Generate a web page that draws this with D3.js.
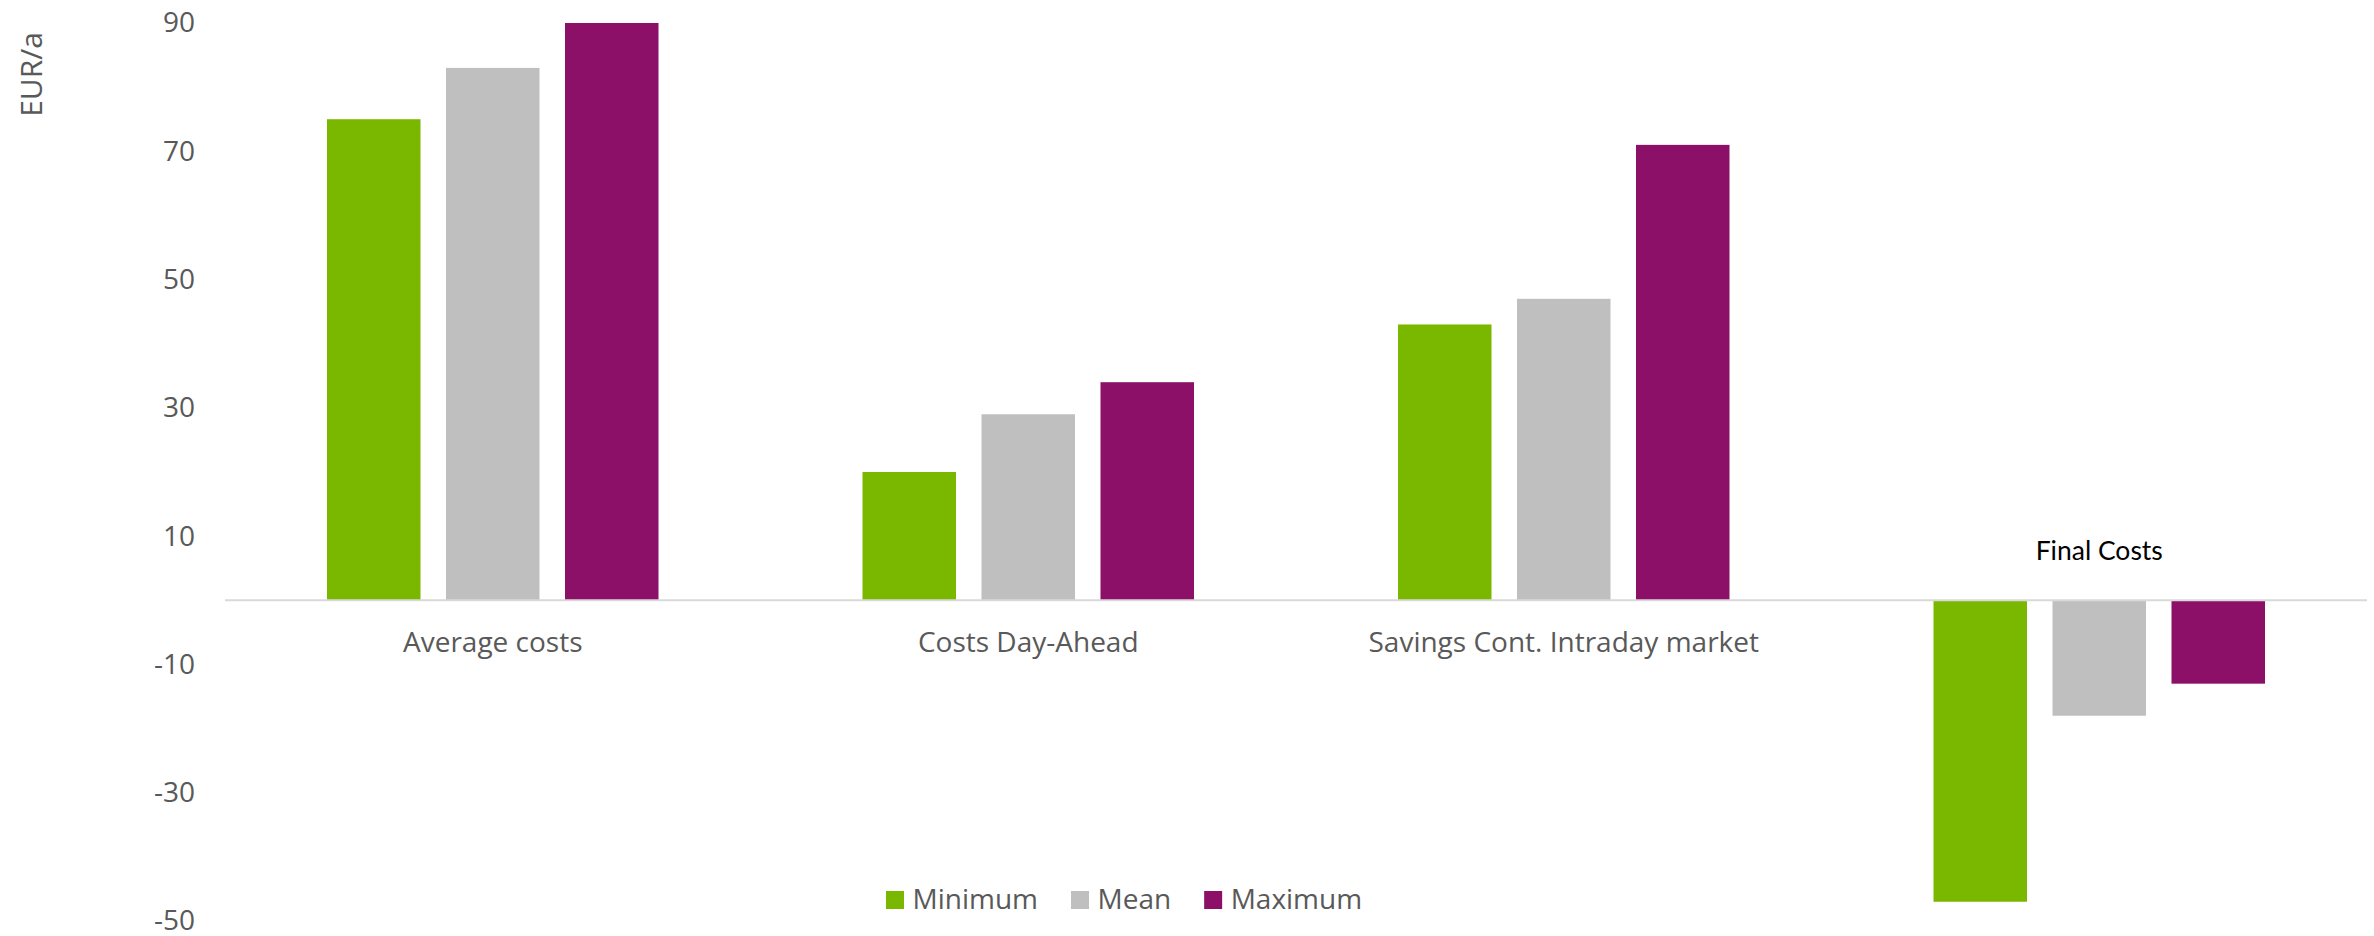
<!DOCTYPE html>
<html>
<head>
<meta charset="utf-8">
<script src="https://cdn.jsdelivr.net/npm/d3@7"></script>
<style>
  html, body { margin: 0; padding: 0; background: #ffffff; }
  svg { display: block; }
</style>
</head>
<body>
<svg id="chart" width="2374" height="936"></svg>
<script>
// Cost components per scenario, EUR per year
const categories = ["Average costs", "Costs Day-Ahead", "Savings Cont. Intraday market", "Final Costs"];
const seriesNames = ["Minimum", "Mean", "Maximum"];
const minimumValues = [75, 20, 43, -47];
const meanValues = [83, 29, 47, -18];
const maximumValues = [90, 34, 71, -13];
const yTicks = [90, 70, 50, 30, 10, -10, -30, -50];
const yAxisTitle = "EUR/a";

const seriesValues = [minimumValues, meanValues, maximumValues];
const colors = ["#7ab800", "#bfbfbf", "#8c0f68"];
const textColor = "#595959";
const font = "'Open Sans', sans-serif";

const svg = d3.select("#chart");

const plotLeft = 225, plotRight = 2367;
const y = d3.scaleLinear().domain([-50, 90]).range([921, 23]);
const x0 = d3.scaleBand().domain(categories).range([plotLeft, plotRight]).paddingInner(0).paddingOuter(0);

const groupWidth = 331.5;
const x1 = d3.scaleBand()
  .domain(seriesNames)
  .range([(x0.bandwidth() - groupWidth) / 2, (x0.bandwidth() + groupWidth) / 2])
  .paddingInner(0.2143)
  .paddingOuter(0);

// Y axis labels (no line, no tick marks); plain hyphen for negatives
const yAxis = d3.axisLeft(y).tickValues(yTicks).tickSize(0).tickPadding(30).tickFormat(d => String(d));
const gy = svg.append("g").attr("transform", `translate(${plotLeft},0)`).call(yAxis);
gy.select(".domain").remove();
gy.selectAll("text")
  .attr("fill", textColor)
  .style("font-family", font)
  .style("font-size", "28px");

// Y axis title
svg.append("text")
  .attr("transform", `translate(42,74.5) rotate(-90)`)
  .attr("text-anchor", "middle")
  .attr("fill", textColor)
  .style("font-family", font)
  .style("font-size", "30px")
  .text(yAxisTitle);

// Bars
const rows = categories.map((c, i) => ({
  category: c,
  values: seriesNames.map((s, k) => ({ series: s, k, value: seriesValues[k][i] }))
}));

const groups = svg.append("g").selectAll("g")
  .data(rows)
  .join("g")
  .attr("transform", d => `translate(${x0(d.category)},0)`);

groups.selectAll("rect")
  .data(d => d.values)
  .join("rect")
  .attr("x", d => x1(d.series))
  .attr("width", x1.bandwidth())
  .attr("y", d => y(Math.max(0, d.value)))
  .attr("height", d => Math.abs(y(d.value) - y(0)))
  .attr("fill", d => colors[d.k]);

// Zero line
svg.append("line")
  .attr("x1", plotLeft).attr("x2", plotRight)
  .attr("y1", y(0)).attr("y2", y(0))
  .attr("stroke", "#d9d9d9")
  .attr("stroke-width", 2);

// Category labels: below the zero line, or above it when all values are negative
rows.forEach(r => {
  const allNegative = r.values.every(v => v.value < 0);
  svg.append("text")
    .attr("x", x0(r.category) + x0.bandwidth() / 2)
    .attr("y", allNegative ? 560 : 652)
    .attr("text-anchor", "middle")
    .attr("fill", allNegative ? "#000000" : textColor)
    .style("font-family", allNegative ? "Lato, sans-serif" : font)
    .style("font-size", allNegative ? "26.5px" : "28px")
    .text(r.category);
});

// Legend
const legend = svg.append("g");
let lx = 886;
seriesNames.forEach((s, k) => {
  legend.append("rect")
    .attr("x", lx).attr("y", 891)
    .attr("width", 18).attr("height", 18)
    .attr("fill", colors[k]);
  const t = legend.append("text")
    .attr("x", lx + 26.5).attr("y", 909)
    .attr("fill", textColor)
    .style("font-family", font)
    .style("font-size", "28px")
    .text(s);
  lx = lx + 26.5 + t.node().getComputedTextLength() + 33;
});
</script>
</body>
</html>
